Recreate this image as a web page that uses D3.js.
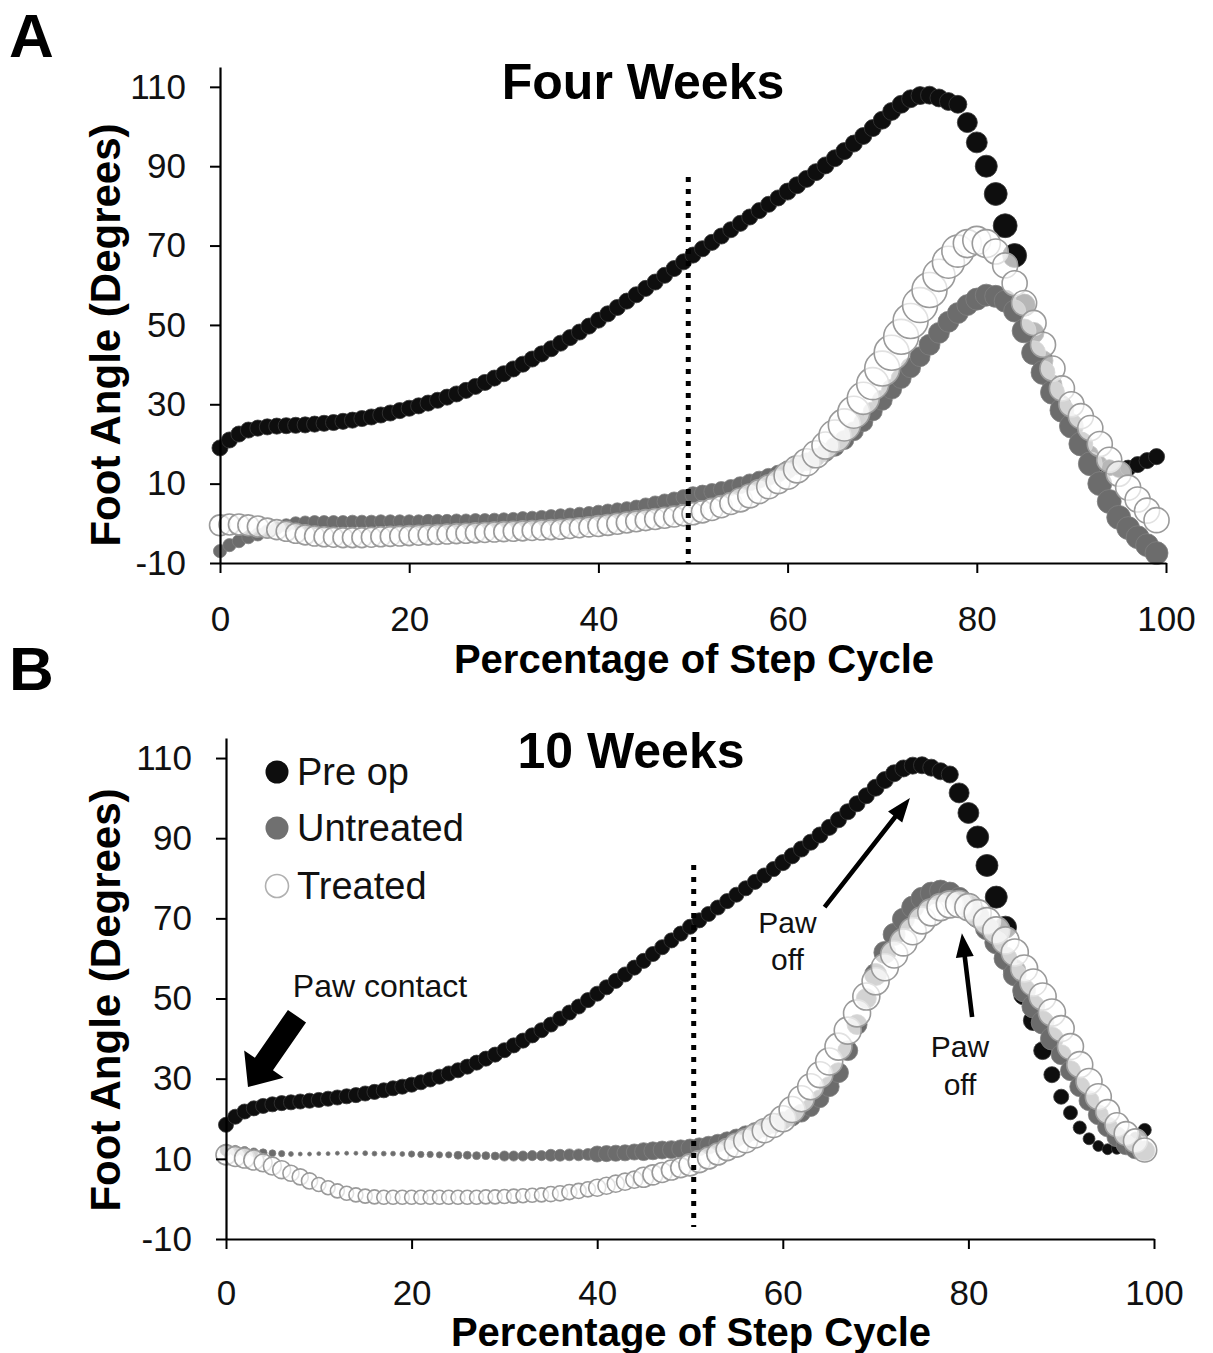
<!DOCTYPE html>
<html>
<head>
<meta charset="utf-8">
<script src="https://cdn.jsdelivr.net/npm/d3@7"></script>
<style>
  body { margin: 0; background: #fff; }
  svg text { font-family: "Liberation Sans", Arial, Helvetica, sans-serif; }
</style>
</head>
<body>
<div id="chart"></div>
<script>
// step cycle samples, 0..99 %
var steps = d3.range(0, 100);
var xTicks = [0, 20, 40, 60, 80, 100];
var yTicks = [-10, 10, 30, 50, 70, 90, 110];
var seriesNames = ["Pre op", "Untreated", "Treated"];

// ---- Four weeks (A) ----
var preA = [19.0,21.0,22.5,23.5,24.0,24.3,24.5,24.6,24.7,24.8,
  25.0,25.2,25.4,25.7,26.0,26.4,26.8,27.3,27.8,28.4,
  29.0,29.6,30.3,31.0,31.8,32.6,33.5,34.5,35.5,36.6,
  37.7,38.9,40.1,41.4,42.7,44.0,45.4,46.8,48.2,49.7,
  51.2,52.8,54.4,56.0,57.6,59.2,60.8,62.5,64.2,65.9,
  67.6,69.2,70.8,72.4,74.0,75.6,77.2,78.8,80.4,82.0,
  83.6,85.2,86.8,88.5,90.2,92.0,93.8,95.7,97.6,99.6,
  101.6,103.8,105.6,107.0,107.8,107.9,107.2,106.3,105.6,101.0,
  96.0,90.0,83.0,75.0,67.5,55.0,48.0,41.0,35.0,30.0,
  25.5,21.0,17.5,15.0,14.0,13.6,13.9,14.8,15.8,16.8];
var preA_size = [33,33,33,33,33,33,33,33,33,33,
  33,33,33,33,33,33,33,33,33,33,
  33,33,33,33,33,33,33,33,33,33,
  33,33,33,33,33,33,33,33,33,33,
  33,33,33,33,33,33,33,33,33,33,
  33,33,33,33,33,33,33,33,33,33,
  37,37,37,37,37,37,37,37,37,37,
  41,41,41,41,41,41,41,41,41,51,
  56,62,67,73,73,62,56,51,46,41,
  37,33,33,29,33,33,33,33,33,33];

var untA = [-7.0,-5.5,-4.5,-3.5,-2.8,-2.0,-1.2,-0.5,0.0,0.2,
  0.3,0.3,0.3,0.3,0.4,0.4,0.4,0.5,0.5,0.5,
  0.5,0.5,0.6,0.6,0.6,0.7,0.7,0.8,0.8,0.9,
  1.0,1.1,1.3,1.4,1.6,1.8,2.0,2.2,2.4,2.6,
  2.8,3.1,3.4,3.7,4.1,4.5,5.0,5.5,6.0,6.6,
  7.2,7.6,8.0,8.5,9.0,9.6,10.3,11.0,11.7,12.5,
  13.5,14.5,15.5,16.6,17.8,19.3,21.0,23.2,25.5,28.2,
  31.0,33.8,36.5,39.2,42.0,45.0,48.0,50.8,53.0,55.0,
  56.5,57.5,57.2,56.0,53.5,48.5,43.0,38.0,33.0,28.5,
  24.5,20.0,15.0,10.0,5.5,1.5,-1.2,-3.5,-5.5,-7.5];
var untA_size = [22,22,22,22,22,22,22,22,22,22,
  22,22,22,22,22,22,22,22,22,22,
  22,22,22,22,22,22,22,22,22,22,
  22,22,22,22,22,22,22,22,22,22,
  25,25,25,25,25,29,29,29,29,29,
  33,33,33,33,33,37,37,37,37,37,
  41,41,41,41,41,46,46,46,46,46,
  51,51,51,51,51,56,56,56,56,56,
  62,62,62,62,62,73,73,73,73,73,
  73,73,73,73,73,73,67,67,67,67];

var treA = [-0.5,-0.3,-0.3,-0.5,-0.8,-1.2,-1.6,-2.0,-2.5,-2.9,
  -3.2,-3.4,-3.5,-3.6,-3.6,-3.6,-3.5,-3.4,-3.3,-3.2,
  -3.1,-3.0,-2.9,-2.8,-2.7,-2.6,-2.5,-2.4,-2.3,-2.2,
  -2.1,-2.0,-1.9,-1.8,-1.7,-1.6,-1.5,-1.3,-1.1,-0.9,
  -0.7,-0.4,-0.1,0.2,0.5,0.8,1.1,1.4,1.7,2.0,
  2.4,2.9,3.5,4.2,5.0,5.9,6.9,8.0,9.2,10.5,
  12.0,13.6,15.4,17.4,19.6,22.0,24.8,28.0,31.5,35.2,
  39.0,43.0,47.0,51.0,55.0,58.8,62.5,65.8,68.6,70.5,
  71.3,70.5,68.5,65.0,60.5,55.5,50.5,45.0,39.0,34.0,
  30.0,27.0,24.0,20.0,16.0,12.5,9.0,6.0,3.2,0.8];
var treA_size = [56,56,56,56,56,51,51,51,51,51,
  51,51,51,51,51,51,51,51,51,51,
  51,51,51,51,51,51,51,51,51,51,
  51,51,51,51,51,51,51,51,51,51,
  56,56,56,56,56,56,56,56,56,56,
  62,62,62,62,62,73,73,73,73,73,
  93,93,93,93,93,131,131,131,131,131,
  156,156,156,156,156,156,131,131,131,100,
  100,100,80,80,80,80,80,80,80,80,
  80,80,80,80,80,80,80,80,80,80];

// ---- 10 weeks (B) ----
var preB = [18.5,20.5,21.8,22.6,23.2,23.6,23.9,24.1,24.3,24.5,
  24.7,25.0,25.3,25.6,25.9,26.3,26.7,27.1,27.6,28.0,
  28.5,29.1,29.8,30.5,31.3,32.1,33.0,34.0,35.0,36.0,
  37.1,38.3,39.5,40.8,42.1,43.5,45.0,46.5,48.0,49.6,
  51.2,52.8,54.4,56.0,57.7,59.4,61.1,62.8,64.5,66.2,
  67.9,69.5,71.1,72.7,74.3,75.9,77.5,79.1,80.7,82.3,
  83.9,85.6,87.3,89.0,90.8,92.7,94.6,96.6,98.6,100.6,
  102.6,104.5,106.2,107.4,108.1,108.2,107.6,106.7,105.9,101.3,
  96.3,90.3,83.2,75.3,67.8,57.0,51.0,44.5,37.0,31.0,
  25.5,21.5,17.8,15.0,13.2,12.4,12.5,13.5,15.2,17.2];
var preB_size = [29,29,29,29,29,29,29,29,29,29,
  29,29,29,29,29,29,29,29,29,29,
  29,29,29,29,29,29,29,29,29,29,
  29,29,29,29,29,29,29,29,29,29,
  29,29,29,29,29,29,29,29,29,29,
  29,29,29,29,29,29,29,29,29,29,
  33,33,33,33,33,33,33,33,33,33,
  37,37,37,37,37,37,37,37,37,51,
  56,62,62,62,62,62,56,51,41,33,
  29,25,22,18,15,15,15,15,18,22];

var untB = [12.2,12.0,11.8,11.6,11.5,11.4,11.3,11.2,11.2,11.2,
  11.3,11.3,11.4,11.4,11.4,11.4,11.3,11.3,11.3,11.2,
  11.2,11.1,11.1,11.0,11.0,10.9,10.9,10.8,10.8,10.7,
  10.7,10.7,10.7,10.8,10.8,10.9,10.9,11.0,11.0,11.1,
  11.2,11.3,11.4,11.5,11.7,11.8,12.0,12.2,12.3,12.5,
  12.7,13.0,13.4,13.9,14.5,15.2,16.0,16.8,17.7,18.6,
  19.5,20.4,21.4,22.8,25.0,28.0,31.5,37.0,43.5,50.0,
  56.0,61.5,66.0,69.8,72.8,75.0,76.3,76.8,76.3,75.0,
  73.0,70.5,67.5,64.0,60.0,56.0,52.0,48.0,44.0,40.0,
  36.0,32.0,28.0,24.5,21.0,18.0,15.5,13.5,12.5,12.0];
var untB_size = [18,15,13,10,8,6,5,3,2,2,
  2,2,2,2,2,3,3,3,3,3,
  5,5,5,5,5,8,8,8,8,8,
  13,13,13,13,13,18,18,18,18,18,
  33,33,33,33,33,41,41,41,41,41,
  41,41,41,41,41,41,41,41,41,41,
  41,41,41,41,41,51,51,51,51,51,
  62,62,62,62,62,62,62,62,62,62,
  67,67,67,67,67,67,67,67,67,67,
  51,51,51,51,51,51,51,51,51,51];

var treB = [11.0,10.6,10.2,9.7,9.0,8.2,7.3,6.4,5.5,4.5,
  3.6,2.8,2.0,1.4,1.0,0.7,0.5,0.4,0.4,0.4,
  0.4,0.4,0.4,0.4,0.4,0.4,0.4,0.4,0.5,0.5,
  0.6,0.7,0.8,0.9,1.0,1.2,1.4,1.7,2.0,2.4,
  2.8,3.3,3.8,4.3,4.8,5.4,6.0,6.6,7.2,7.8,
  8.5,9.3,10.2,11.2,12.3,13.4,14.5,15.7,17.0,18.3,
  20.0,22.3,25.0,28.0,31.0,34.3,38.0,42.0,46.3,50.5,
  54.3,57.8,61.0,64.0,66.8,69.5,71.5,72.8,73.5,73.6,
  72.8,71.3,69.3,67.0,64.5,61.5,57.5,54.0,50.5,46.5,
  42.5,38.0,33.5,29.3,25.5,21.8,18.5,16.3,14.5,12.2];
var treB_size = [51,51,51,51,41,41,41,33,33,33,
  25,25,25,25,25,25,25,25,25,25,
  25,25,25,25,25,25,25,25,25,25,
  25,25,25,25,25,29,29,29,29,29,
  37,37,37,37,37,51,51,51,51,51,
  62,62,62,62,62,73,73,73,73,73,
  86,86,86,86,86,93,93,93,93,93,
  93,93,93,93,93,93,93,93,93,93,
  93,93,93,93,93,93,93,93,93,93,
  86,86,86,86,86,73,73,73,73,73];

// marker looks, in series order
var fills = ["#0e0e0e", "#6c6c6c", "#ffffff"];
var fillOp = [1, 1, 0.7];
var strokes = ["#383838", "#808080", "#9a9a9a"];
var strokeW = [0.8, 0.8, 1.6];

var svg = d3.select("#chart").append("svg")
    .attr("width", 1213)
    .attr("height", 1353);

// bubble size -> radius
var r = d3.scaleSqrt().domain([0, 100]).range([0, 14]);

var panels = [
  { letter: "A", title: "Four Weeks", xr: [220, 1166], yr: [563, 67],
    titleX: 643, titleY: 99, letterY: 57, yTitleY: 335, xTitleX: 694, xTitleY: 673, xPad: 33,
    dotX: 49.5, dotTop: 87.3, dotBottom: -10,
    series: [[preA, preA_size], [untA, untA_size], [treA, treA_size]] },
  { letter: "B", title: "10 Weeks", xr: [226, 1154], yr: [1239, 738],
    titleX: 631, titleY: 768, letterY: 690, yTitleY: 1000, xTitleX: 691, xTitleY: 1346, xPad: 31,
    dotX: 50.4, dotTop: 83.3, dotBottom: -7,
    series: [[preB, preB_size], [untB, untB_size], [treB, treB_size]] }
];

function arrowPoly(t, p, hw, hh, hl) {
  var dx = p[0] - t[0], dy = p[1] - t[1];
  var L = Math.sqrt(dx * dx + dy * dy);
  var ux = dx / L, uy = dy / L, nx = -uy, ny = ux;
  var hx = p[0] - ux * hl, hy = p[1] - uy * hl;
  return [[t[0] + nx * hw, t[1] + ny * hw], [hx + nx * hw, hy + ny * hw],
          [hx + nx * hh, hy + ny * hh], p,
          [hx - nx * hh, hy - ny * hh], [hx - nx * hw, hy - ny * hw],
          [t[0] - nx * hw, t[1] - ny * hw]];
}

panels.forEach(function (p, pi) {
  var x = d3.scaleLinear().domain([0, 100]).range(p.xr);
  var y = d3.scaleLinear().domain([-10, 115]).range(p.yr);
  var g = svg.append("g");

  // bubbles: pre op first, treated on top
  p.series.forEach(function (s, si) {
    var pts = steps.map(function (st, j) { return { x: st, y: s[0][j], s: s[1][j] }; });
    g.append("g").selectAll("circle")
      .data(pts)
      .enter()
      .append("circle")
      .attr("cx", function (d) { return x(d.x); })
      .attr("cy", function (d) { return y(d.y); })
      .attr("r", function (d) { return r(d.s); })
      .attr("fill", fills[si])
      .attr("fill-opacity", fillOp[si])
      .attr("stroke", strokes[si])
      .attr("stroke-width", strokeW[si]);
  });

  // dotted line at 50%
  g.append("line")
    .attr("x1", x(p.dotX)).attr("x2", x(p.dotX))
    .attr("y1", y(p.dotTop)).attr("y2", y(p.dotBottom))
    .attr("stroke", "#000")
    .attr("stroke-width", 5)
    .attr("stroke-dasharray", "5,7");

  var fmt = function (d) { return String(d); };  // plain hyphen minus like the original
  var xa = g.append("g")
    .attr("transform", "translate(0," + y(-10) + ")")
    .call(d3.axisBottom(x).tickValues(xTicks).tickFormat(fmt).tickSize(10).tickPadding(p.xPad).tickSizeOuter(0));
  var ya = g.append("g")
    .attr("transform", "translate(" + x(0) + ",0)")
    .call(d3.axisLeft(y).tickValues(yTicks).tickFormat(fmt).tickSize(10).tickPadding(24).tickSizeOuter(0));
  [xa, ya].forEach(function (a) {
    a.select(".domain").attr("stroke", "#000").attr("stroke-width", 2.2);
    a.selectAll(".tick line").attr("stroke", "#000").attr("stroke-width", 2);
    a.selectAll(".tick text").attr("font-size", 35).attr("fill", "#111")
      .style("font-family", "'Liberation Sans', Arial, sans-serif");
  });

  // titles
  g.append("text").attr("x", p.titleX).attr("y", p.titleY)
    .attr("text-anchor", "middle").attr("font-size", 50).attr("font-weight", "bold")
    .text(p.title);
  g.append("text").attr("x", 9).attr("y", p.letterY)
    .attr("font-size", 62).attr("font-weight", "bold")
    .text(p.letter);
  g.append("text")
    .attr("transform", "translate(120," + p.yTitleY + ") rotate(-90)")
    .attr("text-anchor", "middle").attr("font-size", 42).attr("font-weight", "bold")
    .text("Foot Angle (Degrees)");
  g.append("text").attr("x", p.xTitleX).attr("y", p.xTitleY)
    .attr("text-anchor", "middle").attr("font-size", 40).attr("font-weight", "bold")
    .text("Percentage of Step Cycle");

  if (pi == 1) {
    // legend
    var leg = g.append("g");
    seriesNames.forEach(function (n, i) {
      var cy = [772, 828, 886][i];
      leg.append("circle").attr("cx", 277).attr("cy", cy).attr("r", 11.5)
        .attr("fill", i == 1 ? "#707070" : fills[i])
        .attr("stroke", i == 2 ? "#b0b0b0" : fills[i])
        .attr("stroke-width", i == 2 ? 1.6 : 0);
      leg.append("text").attr("x", 297).attr("y", cy + 13)
        .attr("font-size", 38).attr("fill", "#111").text(n);
    });

    // annotations (anchored in data units)
    var big = arrowPoly([x(7.65), y(45.6)], [x(2.37), y(27.9)], 11, 24, 28);
    g.append("polygon").attr("points", big.join(" ")).attr("fill", "#000");
    var a1 = arrowPoly([x(64.5), y(72.8)], [x(73.7), y(100.0)], 2.3, 9, 24);
    g.append("polygon").attr("points", a1.join(" ")).attr("fill", "#000");
    var a2 = arrowPoly([x(80.4), y(45.4)], [x(79.3), y(66.3)], 2.3, 9, 24);
    g.append("polygon").attr("points", a2.join(" ")).attr("fill", "#000");

    g.append("text").attr("x", x(7.2)).attr("y", y(50.4))
      .attr("font-size", 32).attr("fill", "#111").text("Paw contact");
    [[60.5, 66.3, 57.1], [79.1, 35.4, 25.9]].forEach(function (t) {
      g.append("text").attr("x", x(t[0])).attr("y", y(t[1]))
        .attr("text-anchor", "middle").attr("font-size", 30).attr("fill", "#111").text("Paw");
      g.append("text").attr("x", x(t[0])).attr("y", y(t[2]))
        .attr("text-anchor", "middle").attr("font-size", 30).attr("fill", "#111").text("off");
    });
  }
});
</script>
</body>
</html>
